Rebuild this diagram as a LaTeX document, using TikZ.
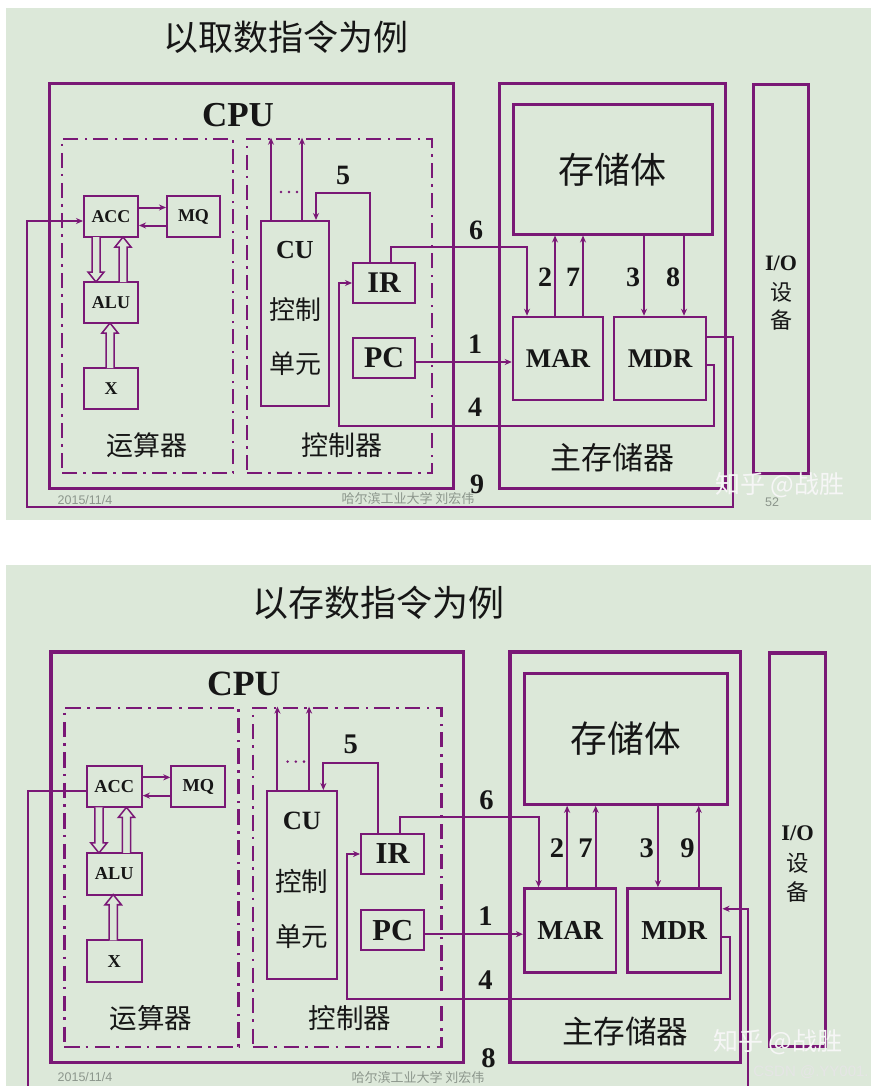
\documentclass[tikz,border=0pt]{standalone}
\usepackage{fontspec}
\setmainfont{Liberation Serif}
\newfontfamily\cjk{Noto Sans CJK SC}
\newfontfamily\sansf{Liberation Sans}
\usetikzlibrary{fit,arrows.meta}
\definecolor{bgc}{RGB}{220,232,217}
\definecolor{pur}{RGB}{122,24,118}
\definecolor{ink}{RGB}{22,22,22}
\definecolor{foot}{RGB}{140,150,140}
\tikzset{
  outerbox/.style={draw=pur, line width=3pt, inner sep=0pt},
  regbox/.style={draw=pur, line width=2pt, inner sep=0pt, text=ink},
  ddbox/.style={draw=pur, line width=2.5pt, inner sep=0pt, dash pattern=on 15pt off 6pt on 2.5pt off 6.5pt},
  conn/.style={draw=pur, line width=2pt},
  tip/.style={-{Stealth[length=7pt,width=6pt]}},
  num/.style={font=\bfseries\fontsize{28}{28}\selectfont, text=ink, inner sep=0pt},
  lat/.style={font=\bfseries\fontsize{#1}{#1}\selectfont, text=ink, inner sep=0pt},
  cjkt/.style={font=\cjk\fontsize{#1}{#1}\selectfont, text=ink, inner sep=0pt},
  hollow/.style={draw=pur, line width=1.5pt, fill=bgc},
  foot/.style={font=\sansf\fontsize{12.5}{12.5}\selectfont, text=foot, inner sep=0pt},
  footc/.style={font=\cjk\fontsize{13}{13}\selectfont, text=foot, inner sep=0pt},
  wm/.style={font=\cjk\fontsize{25}{25}\selectfont, text=white!93!gray, inner sep=0pt},
  wmb/.style={font=\sansf\fontsize{15}{15}\selectfont, text=white!80!gray, inner sep=0pt},
}
\newcommand\hdown[3]{\draw[hollow] ({#1-4},#2) -- ({#1-4},{#3-10}) -- ({#1-8},{#3-10}) -- (#1,#3) -- ({#1+8},{#3-10}) -- ({#1+4},{#3-10}) -- ({#1+4},#2);}
\newcommand\hup[3]{\draw[hollow] ({#1-4},#2) -- ({#1-4},{#3+10}) -- ({#1-8},{#3+10}) -- (#1,#3) -- ({#1+8},{#3+10}) -- ({#1+4},{#3+10}) -- ({#1+4},#2);}
\newcommand\drawpanel[1]{%
 \node[outerbox, fit={(49,84)(453,488)}] (#1cpu) {};
 \node[outerbox, fit={(499,84)(725,488)}] (#1mem) {};
 \node[outerbox, fit={(753,85)(808,473)}] (#1io) {};
 \node[ddbox, fit={(62,139)(233,473)}] (#1alub) {};
 \node[ddbox, fit={(247,139)(432,473)}] (#1cub) {};
 \node[lat=35] (#1cpul) at (238,115) {CPU};
 \node[cjkt=27] (#1alul) at (147,445) {运算器};
 \node[cjkt=27] (#1cul) at (342,445) {控制器};
 \node[regbox, fit={(84,196)(138,237)}, label={[lat=18,name=#1accT]center:ACC}] (#1acc) {};
 \node[regbox, fit={(167,196)(220,237)}, label={[lat=18,name=#1mqT]center:MQ}] (#1mq) {};
 \node[regbox, fit={(84,282)(138,323)}, label={[lat=18,name=#1aluT]center:ALU}] (#1alu) {};
 \node[regbox, fit={(84,368)(138,409)}, label={[lat=18,name=#1xT]center:X}] (#1x) {};
 \node[regbox, fit={(261,221)(329,406)}] (#1cu) {};
 \node[lat=26] (#1cut) at (295,250) {CU};
 \node[cjkt=26] (#1cuk) at (295,310) {控制};
 \node[cjkt=26] (#1cud) at (295,364) {单元};
 \node[regbox, fit={(353,263)(415,303)}, label={[lat=30,name=#1irT]center:IR}] (#1ir) {};
 \node[regbox, fit={(353,338)(415,378)}, label={[lat=30,name=#1pcT]center:PC}] (#1pc) {};
 \node[outerbox, fit={(513,105)(712,234)}, label={[cjkt=36,name=#1bodyT]center:存储体}] (#1body) {};
 \node[regbox, line width=2.5pt, fit={(513,317)(603,400)}, label={[lat=27,name=#1marT]center:MAR}] (#1mar) {};
 \node[regbox, line width=2.5pt, fit={(614,317)(706,400)}, label={[lat=27,name=#1mdrT]center:MDR}] (#1mdr) {};
 \node[cjkt=31] (#1zcq) at (612,458) {主存储器};
 \node[lat=22] (#1iot) at (781,263) {I/O};
 \node[cjkt=22] (#1ios) at (781,292) {设};
 \node[cjkt=22] (#1iob) at (781,320) {备};
 \draw[conn,tip] ([yshift=9pt]#1acc.east) -- ([yshift=9pt]#1mq.west);
 \draw[conn,tip] ([yshift=-9pt]#1mq.west) -- ([yshift=-9pt]#1acc.east);
 \hdown{96}{237}{282}
 \hup{123}{282}{237}
 \hup{110}{368}{323}
 \coordinate (#1cua) at ([xshift=-24pt]#1cu.north);
 \coordinate (#1cuc) at ([xshift=7pt]#1cu.north);
 \draw[conn,tip] (#1cua) -- (#1cua |- #1cub.north);
 \draw[conn,tip] (#1cuc) -- (#1cuc |- #1cub.north);
 \foreach \k in {0,1,2} \fill[pur] ({281+\k*8},192) circle (1.4pt);
 \draw[conn,tip] ([xshift=-14pt]#1ir.north) -- ++(0,-69) -| ([xshift=21pt]#1cu.north);
 \draw[conn,tip] ([xshift=7pt]#1ir.north) -- ++(0,-15) -| ([xshift=-31pt]#1mar.north);
 \coordinate (#1l1) at ([yshift=-4pt]#1pc.east);
 \draw[conn,tip] (#1l1) -- (#1l1 -| #1mar.west);
 \draw[conn,tip] ([yshift=-6.5pt]#1mdr.east) -- ++(7,0) |- (339,426) |- (#1ir.west);
 \coordinate (#1a2) at ([xshift=-3pt]#1mar.north);
 \coordinate (#1a7) at ([xshift=25pt]#1mar.north);
 \coordinate (#1a3) at ([xshift=-16pt]#1mdr.north);
 \coordinate (#1a8) at ([xshift=24pt]#1mdr.north);
 \draw[conn,tip] (#1a2) -- (#1a2 |- #1body.south);
 \draw[conn,tip] (#1a7) -- (#1a7 |- #1body.south);
 \draw[conn,tip] (#1a3 |- #1body.south) -- (#1a3);
 \node[num] (#1n5) at (343,175) {5};
 \node[num] (#1n6) at (476,230) {6};
 \node[num] (#1n1) at (475,344) {1};
 \node[num] (#1n4) at (475,407) {4};
 \node[num] (#1n2) at (545,277) {2};
 \node[num] (#1n7) at (573,277) {7};
 \node[num] (#1n3) at (633,277) {3};
}
\begin{document}
\begin{tikzpicture}[x=1pt,y=-1pt]
\useasboundingbox (0,0) rectangle (877,1086);
\fill[white] (0,0) rectangle (877,1086);
\fill[bgc] (6,8) rectangle (871,520);
\fill[bgc] (6,565) rectangle (871,1086);
\node[cjkt=35] (title1) at (286,37) {以取数指令为例};
\node[cjkt=36] (title2) at (378,603) {以存数指令为例};
\node[foot] (f1a) at (85,500) {2015/11/4};
\node[footc] (f1b) at (408,499) {哈尔滨工业大学\ 刘宏伟};
\node[foot] (f1c) at (772,502) {52};
\node[foot] (f2a) at (85,1077) {2015/11/4};
\node[footc] (f2b) at (418,1078) {哈尔滨工业大学\ 刘宏伟};
\begin{scope}
 \drawpanel{a}
 \draw[conn,tip] (aa8 |- abody.south) -- (aa8);
 \node[num] (an8) at (673,277) {8};
 \draw[conn,tip] ([yshift=21.5pt]amdr.east) -- ++(26,0) |- (27,507) |- ([yshift=-4.5pt]aacc.west);
 \node[num] (an9) at (477,484) {9};
\end{scope}
\begin{scope}[transform canvas={shift={(1.02,566.74)}, xscale=1.02, yscale=1.015}]
 \drawpanel{b}
 \draw[conn,tip] (ba8) -- (ba8 |- bbody.south);
 \node[num] (bn9) at (673,277) {9};
 \draw[conn,tip] ([yshift=-4.5pt]bacc.west) -- ++(-57,0) |- (732,540) |- ([yshift=21.5pt]bmdr.east);
 \node[num] (bn8) at (478,484) {8};
\end{scope}
\node[wm] (w1) at (780,485) {知乎 @战胜};
\node[wm] (w2) at (778,1042) {知乎 @战胜};
\node[wmb] (w3) at (811,1072) {CSDN @.YY001.};
\end{tikzpicture}
\end{document}
